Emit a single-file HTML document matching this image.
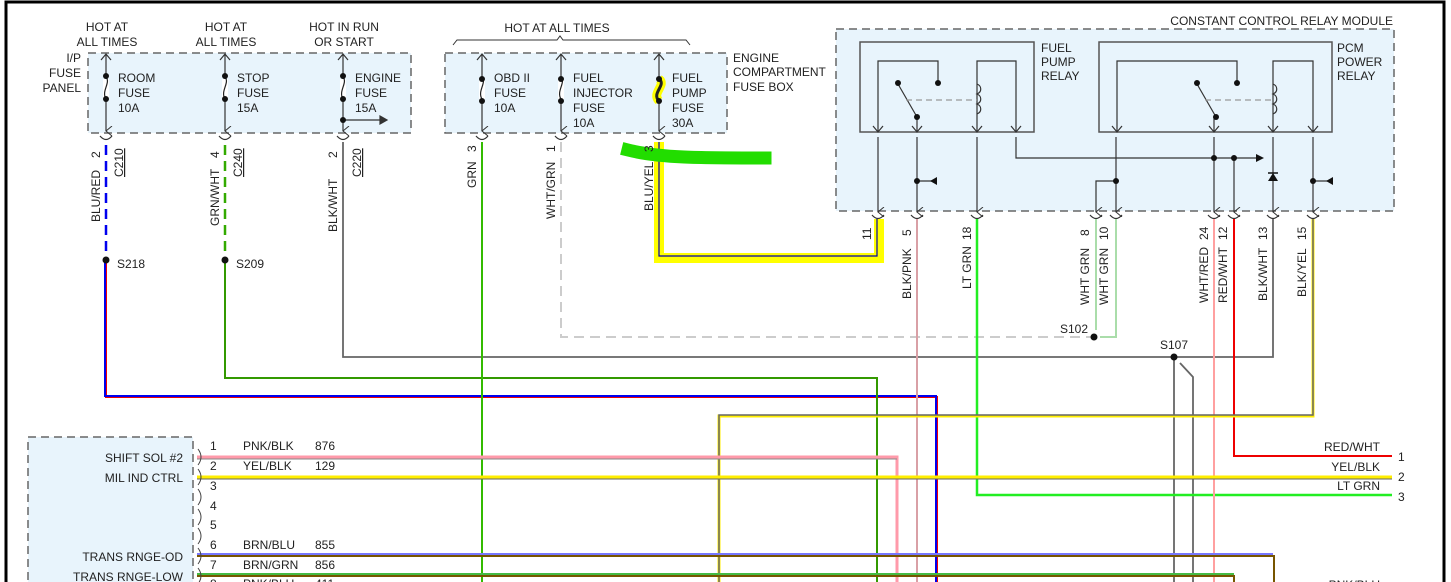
<!DOCTYPE html>
<html><head><meta charset="utf-8"><style>
html,body{margin:0;padding:0;background:#fff;width:1451px;height:582px;overflow:hidden}
svg{display:block;font-family:"Liberation Sans",Arial,sans-serif;font-size:12px}
</style></head><body>
<svg width="1451" height="582" viewBox="0 0 1451 582" xmlns="http://www.w3.org/2000/svg">
<defs>
<marker id="ar" markerWidth="10" markerHeight="10" refX="5" refY="8" orient="auto" markerUnits="userSpaceOnUse">
<path d="M0,2 L5,8 L10,2" fill="none" stroke="#333" stroke-width="1"/></marker>
</defs>
<rect x="0" y="0" width="1451" height="582" fill="#fff"/>
<!-- outer frame -->
<path d="M6,582 V2 H1444 V582" fill="none" stroke="#000" stroke-width="3"/>

<!-- boxes -->
<g fill="#e8f4fc" stroke="#666" stroke-width="1.5" stroke-dasharray="8,5">
<rect x="88" y="53" width="323" height="80"/>
<rect x="445" y="53" width="282" height="80"/>
<rect x="836" y="29" width="558" height="182"/>
<rect x="28" y="437" width="165" height="160"/>
</g>
<g fill="none" stroke="#555" stroke-width="1.5">
<rect x="860" y="42" width="174" height="90"/>
<rect x="1099" y="42" width="233" height="90"/>
</g>

<!-- headings -->
<g fill="#222" text-anchor="middle">
<text x="107" y="31">HOT AT</text><text x="107" y="46">ALL TIMES</text>
<text x="226" y="31">HOT AT</text><text x="226" y="46">ALL TIMES</text>
<text x="344" y="31">HOT IN RUN</text><text x="344" y="46">OR START</text>
<text x="557" y="32">HOT AT ALL TIMES</text>
</g>
<path d="M453,45 L457,40 H557 L560,36 L563,40 H686 L690,45" fill="none" stroke="#333"/>
<g fill="#222" text-anchor="end">
<text x="81" y="62">I/P</text><text x="81" y="77">FUSE</text><text x="81" y="92">PANEL</text>
<text x="1393" y="25">CONSTANT CONTROL RELAY MODULE</text>
</g>
<g fill="#222">
<text x="733" y="62">ENGINE</text><text x="733" y="76">COMPARTMENT</text><text x="733" y="91">FUSE BOX</text>
<text x="118" y="82">ROOM</text><text x="118" y="97">FUSE</text><text x="118" y="112">10A</text>
<text x="237" y="82">STOP</text><text x="237" y="97">FUSE</text><text x="237" y="112">15A</text>
<text x="355" y="82">ENGINE</text><text x="355" y="97">FUSE</text><text x="355" y="112">15A</text>
<text x="494" y="82">OBD II</text><text x="494" y="97">FUSE</text><text x="494" y="112">10A</text>
<text x="573" y="82">FUEL</text><text x="573" y="97">INJECTOR</text><text x="573" y="112">FUSE</text><text x="573" y="127">10A</text>
<text x="672" y="82">FUEL</text><text x="672" y="97">PUMP</text><text x="672" y="112">FUSE</text><text x="672" y="127">30A</text>
<text x="1041" y="52">FUEL</text><text x="1041" y="66">PUMP</text><text x="1041" y="80">RELAY</text>
<text x="1337" y="52">PCM</text><text x="1337" y="66">POWER</text><text x="1337" y="80">RELAY</text>
</g>

<!-- fuses -->
<g stroke="#333" stroke-width="1.2" fill="none">
<g id="f1">
<line x1="106" y1="55" x2="106" y2="131" marker-end="url(#ar)"/>
</g>
<line x1="225" y1="55" x2="225" y2="131" marker-end="url(#ar)"/>
<line x1="343" y1="55" x2="343" y2="131" marker-end="url(#ar)"/>
<line x1="482" y1="55" x2="482" y2="131" marker-end="url(#ar)"/>
<line x1="561" y1="55" x2="561" y2="131" marker-end="url(#ar)"/>
<line x1="659" y1="55" x2="659" y2="131" marker-end="url(#ar)"/>
<path d="M101,60 L106,54 L111,60 M220,60 L225,54 L230,60 M338,60 L343,54 L348,60 M477,60 L482,54 L487,60 M556,60 L561,54 L566,60 M654,60 L659,54 L664,60"/>
<line x1="343" y1="120" x2="385" y2="120"/>
<path d="M380,116 L387,120 L380,124Z" fill="#333"/>
</g>
<path d="M659,79 C667,85 651,93 659,101" stroke="#ffff00" stroke-width="9" fill="none"/>
<g fill="#fff" stroke="none">
<rect x="103" y="79" width="6" height="20"/><rect x="222" y="79" width="6" height="20"/><rect x="340" y="79" width="6" height="20"/>
<rect x="479" y="79" width="6" height="20"/><rect x="558" y="79" width="6" height="20"/>
</g>
<g stroke="#222" fill="none" stroke-width="1.2">
<path d="M106,77 C111,83 101,91 106,99"/><path d="M225,77 C230,83 220,91 225,99"/><path d="M343,77 C348,83 338,91 343,99"/>
<path d="M482,77 C487,83 477,91 482,99"/><path d="M561,77 C566,83 556,91 561,99"/>
<path d="M659,79 C667,85 651,93 659,101" stroke-width="3"/>
</g>
<g fill="#111">
<circle cx="106" cy="76" r="3"/><circle cx="106" cy="99" r="3"/>
<circle cx="225" cy="76" r="3"/><circle cx="225" cy="99" r="3"/>
<circle cx="343" cy="76" r="3"/><circle cx="343" cy="99" r="3"/><circle cx="343" cy="120" r="3"/>
<circle cx="482" cy="79" r="3"/><circle cx="482" cy="101" r="3"/>
<circle cx="561" cy="79" r="3"/><circle cx="561" cy="101" r="3"/>
<circle cx="659" cy="79" r="3"/><circle cx="659" cy="101" r="3"/>
</g>
<!-- connector cups -->
<g stroke="#333" fill="none" stroke-width="1.2">
<path d="M100,136 q6,7 12,0 M219,136 q6,7 12,0 M337,136 q6,7 12,0 M476,136 q6,7 12,0 M555,136 q6,7 12,0 M653,136 q6,7 12,0"/>
<path d="M872,215 q6,7 12,0 M911,215 q6,7 12,0 M971,215 q6,7 12,0 M1090,215 q6,7 12,0 M1110,215 q6,7 12,0 M1208,215 q6,7 12,0 M1228,215 q6,7 12,0 M1267,215 q6,7 12,0 M1307,215 q6,7 12,0"/>
</g>

<!-- relay internals -->
<g stroke="#333" stroke-width="1.2" fill="none">
<path d="M878,132 V61 H938 V83"/><line x1="898" y1="84" x2="917" y2="117"/>
<path d="M917,117 V132"/>
<path d="M977,132 V61 H1016 V132"/>
<path d="M1117,132 V61 H1237 V83"/><line x1="1197" y1="84" x2="1216" y2="117"/><path d="M1214,117 V132"/>
<path d="M1273,132 V61 H1313 V132"/>
<path d="M977,84 c5,2 5,8 0,10 c5,2 5,8 0,10 c5,2 5,8 0,10 M1273,84 c5,2 5,8 0,10 c5,2 5,8 0,10 c5,2 5,8 0,10"/>
<line x1="906" y1="100" x2="977" y2="100" stroke="#999" stroke-dasharray="6,4"/>
<line x1="1205" y1="100" x2="1273" y2="100" stroke="#999" stroke-dasharray="6,4"/>
<!-- internal wires to pins -->
<line x1="878" y1="137" x2="878" y2="212" marker-end="url(#ar)"/>
<line x1="917" y1="137" x2="917" y2="212" marker-end="url(#ar)"/>
<line x1="977" y1="137" x2="977" y2="212" marker-end="url(#ar)"/>
<path d="M1016,137 V158 H1260"/>
<line x1="1116" y1="137" x2="1116" y2="212" marker-end="url(#ar)"/>
<path d="M1114,181 H1096 V212" marker-end="url(#ar)"/>
<line x1="1214" y1="137" x2="1214" y2="212" marker-end="url(#ar)"/>
<line x1="1234" y1="158" x2="1234" y2="212" marker-end="url(#ar)"/>
<line x1="1273" y1="137" x2="1273" y2="212" marker-end="url(#ar)"/>
<line x1="1313" y1="137" x2="1313" y2="212" marker-end="url(#ar)"/>
<line x1="917" y1="181" x2="935" y2="181"/><line x1="1313" y1="181" x2="1331" y2="181"/>
<path d="M873,126 l5,6 l5,-6 M912,126 l5,6 l5,-6 M972,126 l5,6 l5,-6 M1011,126 l5,6 l5,-6 M1112,126 l5,6 l5,-6 M1209,126 l5,6 l5,-6 M1268,126 l5,6 l5,-6 M1308,126 l5,6 l5,-6"/>
</g>
<g fill="#111">
<path d="M1256,154 L1264,158 L1256,162Z"/>
<path d="M930,181 L937,177 L937,185Z"/><path d="M1326,181 L1333,177 L1333,185Z"/>
<path d="M1268,181 L1278,181 L1273,173Z"/><line x1="1268" y1="173" x2="1278" y2="173" stroke="#111" stroke-width="1.5"/>
<circle cx="898" cy="83" r="3"/><circle cx="938" cy="83" r="3"/><circle cx="917" cy="117" r="3"/>
<circle cx="1197" cy="83" r="3"/><circle cx="1237" cy="83" r="3"/><circle cx="1216" cy="117" r="3"/>
<circle cx="917" cy="181" r="3"/><circle cx="1313" cy="181" r="3"/><circle cx="1116" cy="181" r="3"/>
<circle cx="1214" cy="158" r="3"/><circle cx="1234" cy="158" r="3"/>
</g>

<!-- external wires -->
<g fill="none">
<!-- BLU/RED -->
<line x1="106" y1="145" x2="106" y2="258" stroke="#0000ee" stroke-width="2.5" stroke-dasharray="10,6"/>
<path d="M106,262 V397 H937 V582" stroke="#e00" stroke-width="2"/>
<path d="M105,262 V396 H936 V582" stroke="#0000ee" stroke-width="2"/>
<!-- GRN/WHT -->
<line x1="225" y1="145" x2="225" y2="258" stroke="#33aa00" stroke-width="2.5" stroke-dasharray="10,6"/>
<path d="M225,262 V378 H877 V582" stroke="#339900" stroke-width="2"/>
<!-- BLK/WHT -->
<path d="M343,142 V357 H1273 V219" stroke="#666" stroke-width="1.8"/>
<path d="M1174,357 V582 M1180,363 L1193,377 V582" stroke="#666" stroke-width="1.8"/>
<!-- GRN -->
<line x1="482" y1="142" x2="482" y2="582" stroke="#33bb00" stroke-width="2"/>
<!-- WHT/GRN -->
<path d="M561,142 V337 H1094" stroke="#ccc" stroke-width="2" stroke-dasharray="10,6"/>
<path d="M1096,219 V330 M1116,219 V337 H1100" stroke="#aaddaa" stroke-width="2"/>
<!-- BLU/YEL highlighted -->
<path d="M659,142 V258 H879 V219" stroke="#ffff00" stroke-width="10"/>
<path d="M659,142 V256 H877 V219" stroke="#0000aa" stroke-width="1.2"/>
<path d="M628,150 C660,158 700,158 765,158" stroke="#22dd00" stroke-width="13" stroke-linecap="square"/>
<!-- relay outputs -->
<line x1="917" y1="219" x2="917" y2="582" stroke="#d9a0a6" stroke-width="2"/>
<path d="M977,219 V495 H1392" stroke="#22ee22" stroke-width="2.5"/>
<line x1="1214" y1="219" x2="1214" y2="582" stroke="#ffa0a0" stroke-width="2"/>
<path d="M1234,219 V456 H1392" stroke="#ee0000" stroke-width="2"/>
<path d="M1313,219 V416 H719 V582" stroke="#ffee00" stroke-width="3"/>
<path d="M1313,219 V415 H719 V582" stroke="#666" stroke-width="1.5"/>
<!-- PCM connector wires -->
<path d="M197,457 H897 V582" stroke="#ff9aaa" stroke-width="3"/>
<path d="M197,459 H897" stroke="#888" stroke-width="1"/>
<path d="M197,477 H1392" stroke="#ffee00" stroke-width="3"/>
<path d="M197,479 H1392" stroke="#666" stroke-width="1"/>
<path d="M197,554 H1273" stroke="#7777ff" stroke-width="2"/>
<path d="M197,556 H1274 V582" stroke="#775500" stroke-width="2"/>
<path d="M197,574 H1234" stroke="#44bb44" stroke-width="2"/>
<path d="M197,576 H1234 V582" stroke="#775500" stroke-width="2"/>
</g>
<!-- connector arcs left box -->
<g stroke="#444" fill="none" stroke-width="1">
<path d="M198,449 q6,8 0,16 M198,469 q6,8 0,16 M198,489 q6,8 0,16 M198,509 q6,8 0,16 M198,528 q6,8 0,16 M198,548 q6,8 0,16 M198,568 q6,8 0,16"/>
</g>
<!-- splice dots -->
<g fill="#111">
<circle cx="106" cy="260" r="3.5"/><circle cx="225" cy="260" r="3.5"/>
<circle cx="1094" cy="337" r="3.5"/><circle cx="1174" cy="357" r="3.5"/>
</g>
<g fill="#222">
<text x="117" y="268">S218</text><text x="236" y="268">S209</text>
<text x="1060" y="333">S102</text><text x="1160" y="349">S107</text>
</g>

<!-- vertical labels -->
<g fill="#222">
<text transform="translate(100,158) rotate(-90)">2</text>
<text transform="translate(219,158) rotate(-90)">4</text>
<text transform="translate(337,158) rotate(-90)">2</text>
<text transform="translate(476,152) rotate(-90)">3</text>
<text transform="translate(555,152) rotate(-90)">1</text>
<text transform="translate(653,152) rotate(-90)">3</text>
<text transform="translate(123,177) rotate(-90)" text-decoration="underline">C210</text>
<text transform="translate(242,177) rotate(-90)" text-decoration="underline">C240</text>
<text transform="translate(361,177) rotate(-90)" text-decoration="underline">C220</text>
<text transform="translate(100,222) rotate(-90)">BLU/RED</text>
<text transform="translate(219,226) rotate(-90)">GRN/WHT</text>
<text transform="translate(337,232) rotate(-90)">BLK/WHT</text>
<text transform="translate(476,188) rotate(-90)">GRN</text>
<text transform="translate(555,219) rotate(-90)">WHT/GRN</text>
<text transform="translate(653,211) rotate(-90)">BLU/YEL</text>
<text transform="translate(871,240) rotate(-90)">11</text>
<text transform="translate(911,236) rotate(-90)">5</text>
<text transform="translate(971,240) rotate(-90)">18</text>
<text transform="translate(1089,236) rotate(-90)">8</text>
<text transform="translate(1108,240) rotate(-90)">10</text>
<text transform="translate(1208,240) rotate(-90)">24</text>
<text transform="translate(1227,240) rotate(-90)">12</text>
<text transform="translate(1267,240) rotate(-90)">13</text>
<text transform="translate(1306,240) rotate(-90)">15</text>
<text transform="translate(911,299) rotate(-90)">BLK/PNK</text>
<text transform="translate(971,289) rotate(-90)">LT GRN</text>
<text transform="translate(1089,305) rotate(-90)">WHT GRN</text>
<text transform="translate(1108,305) rotate(-90)">WHT GRN</text>
<text transform="translate(1208,303) rotate(-90)">WHT/RED</text>
<text transform="translate(1227,303) rotate(-90)">RED/WHT</text>
<text transform="translate(1267,301) rotate(-90)">BLK/WHT</text>
<text transform="translate(1306,297) rotate(-90)">BLK/YEL</text>
</g>

<!-- PCM box labels -->
<g fill="#222" text-anchor="end">
<text x="183" y="462">SHIFT SOL #2</text>
<text x="183" y="482">MIL IND CTRL</text>
<text x="183" y="561">TRANS RNGE-OD</text>
<text x="183" y="581">TRANS RNGE-LOW</text>
<text x="1380" y="451">RED/WHT</text>
<text x="1380" y="471">YEL/BLK</text>
<text x="1380" y="490">LT GRN</text>
<text x="1380" y="589">PNK/BLU</text>
</g>
<g fill="#222">
<text x="210" y="450">1</text><text x="210" y="470">2</text><text x="210" y="490">3</text>
<text x="210" y="510">4</text><text x="210" y="529">5</text><text x="210" y="549">6</text>
<text x="210" y="569">7</text><text x="210" y="588">8</text>
<text x="243" y="450">PNK/BLK</text><text x="315" y="450">876</text>
<text x="243" y="470">YEL/BLK</text><text x="315" y="470">129</text>
<text x="243" y="549">BRN/BLU</text><text x="315" y="549">855</text>
<text x="243" y="569">BRN/GRN</text><text x="315" y="569">856</text>
<text x="243" y="588">PNK/BLU</text><text x="315" y="588">411</text>
<text x="1398" y="461">1</text><text x="1398" y="481">2</text><text x="1398" y="501">3</text>
</g>
</svg>
</body></html>
